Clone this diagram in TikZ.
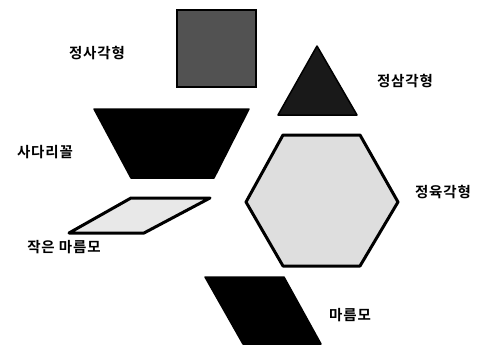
\documentclass[tikz,border=0pt]{standalone}
\usepackage{fontspec}
\newfontfamily\kr{Noto Sans CJK KR}[BoldFont={Noto Sans CJK KR Bold},LetterSpace=6]
\begin{document}
\begin{tikzpicture}[x=1pt,y=-1pt,
  lbl/.style={font=\kr\bfseries\fontsize{14.5}{16}\selectfont, inner sep=0pt},
  darkshape/.style={fill=black, draw=black, line width=1.5pt, line join=round},
  lightshape/.style={fill=black!13, draw=black, line width=3pt, line join=round}]
\useasboundingbox (0,0) rectangle (477,346);
% square
\filldraw[fill=black!68, draw=black, line width=2.5pt] (177,10) rectangle (256,87);
% triangle
\path[darkshape, fill=black!90] (317,46) -- (357,115) -- (278,115) -- cycle;
% trapezoid
\path[darkshape] (94,109) -- (249,109) -- (214,178) -- (131,178) -- cycle;
% hexagon
\path[lightshape] (283,135) -- (360,135) -- (398,202) -- (360,266) -- (283,266) -- (246,202) -- cycle;
% small rhombus
\path[lightshape, fill=black!9] (131,198) -- (210,198) -- (144,233) -- (69,233) -- cycle;
% big rhombus
\path[darkshape] (205,277) -- (284,277) -- (321,344) -- (243,344) -- cycle;
% labels
\node[lbl] (sq) at (97,53) {정사각형};
\node[lbl] (tri) at (405,81) {정삼각형};
\node[lbl] (trap) at (45,152) {사다리꼴};
\node[lbl] (hex) at (443,192) {정육각형};
\node[lbl] (srh) at (64,247) {작은 마름모};
\node[lbl] (rh) at (350,315) {마름모};
\end{tikzpicture}
\end{document}
